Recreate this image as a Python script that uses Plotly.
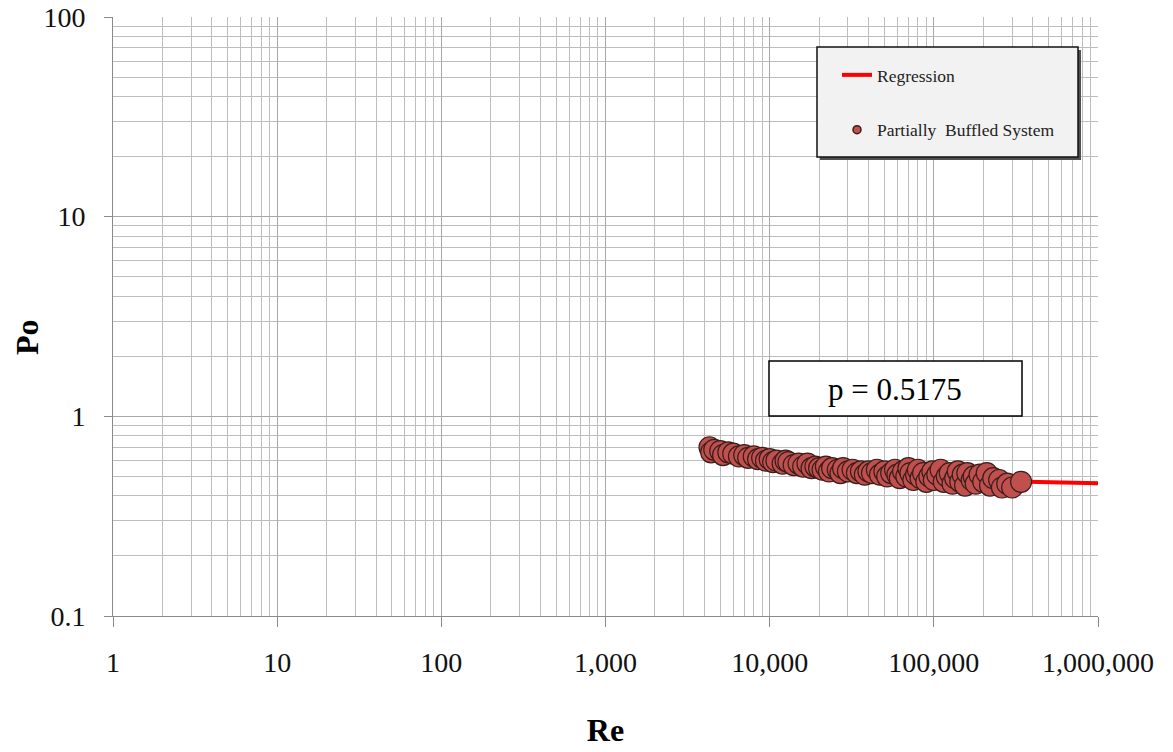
import plotly.graph_objects as go

# Measured points: Reynolds number and power number
re_values = [
    4300, 4400, 4600, 5000, 5200, 5600, 6000, 6500, 7000, 7400,
    8000, 8500, 9000, 9500, 10000, 10500, 11000, 12000, 12500, 13000,
    14000, 15000, 16000, 17000, 18000, 19000, 20000, 21000, 22000, 23000,
    24000, 26000, 27000, 28000, 30000, 32000, 34000, 36000, 38000, 40000,
    42000, 45000, 47000, 50000, 52000, 55000, 58000, 60000, 62000, 65000,
    68000, 70000, 72000, 75000, 78000, 80000, 83000, 86000, 90000, 94000,
    98000, 100000, 105000, 110000, 115000, 120000, 125000, 130000, 135000, 140000,
    145000, 150000, 155000, 160000, 170000, 175000, 180000, 190000, 200000, 210000,
    220000, 230000, 250000, 260000, 280000, 300000, 340000,
]
po_values = [
    0.70, 0.66, 0.68, 0.67, 0.64, 0.66, 0.65, 0.63, 0.64, 0.62,
    0.63, 0.61, 0.62, 0.60, 0.61, 0.59, 0.60, 0.58, 0.60, 0.59,
    0.57, 0.58, 0.56, 0.58, 0.55, 0.56, 0.55, 0.54, 0.56, 0.53,
    0.55, 0.54, 0.52, 0.55, 0.53, 0.54, 0.52, 0.53, 0.51, 0.53,
    0.52, 0.54, 0.51, 0.53, 0.50, 0.52, 0.54, 0.51, 0.49, 0.53,
    0.50, 0.55, 0.52, 0.48, 0.51, 0.54, 0.49, 0.52, 0.47, 0.50,
    0.53, 0.48, 0.51, 0.54, 0.47, 0.50, 0.52, 0.46, 0.49, 0.53,
    0.47, 0.51, 0.45, 0.52, 0.48, 0.50, 0.46, 0.51, 0.47, 0.52,
    0.45, 0.49, 0.48, 0.44, 0.46, 0.44, 0.47,
]

# Regression curve
reg_re = [4000, 10000, 30000, 100000, 300000, 1000000]
reg_po = [0.71, 0.60, 0.53, 0.49, 0.472, 0.462]

exponent_label = "p = 0.5175"

x_tick_values = [1, 10, 100, 1000, 10000, 100000, 1000000]
x_tick_labels = ["1", "10", "100", "1,000", "10,000", "100,000", "1,000,000"]
y_tick_values = [0.1, 1, 10, 100]
y_tick_labels = ["0.1", "1", "10", "100"]

FONT = "Liberation Serif, Times New Roman, serif"
MARKER_FILL = "#C0504D"
MARKER_EDGE = "#3b1d1c"


def minor_positions(lo_exp, hi_exp):
    vals = []
    for e in range(lo_exp, hi_exp):
        for m in range(2, 10):
            vals.append(m * 10.0 ** e)
    return vals


fig = go.Figure()

fig.add_trace(go.Scatter(
    x=reg_re, y=reg_po, mode="lines", name="Regression",
    line=dict(color="#FF0000", width=4),
    legendgroup="reg",
))
fig.add_trace(go.Scatter(
    x=re_values, y=po_values, mode="markers", showlegend=False,
    marker=dict(size=21, color=MARKER_FILL, line=dict(color=MARKER_EDGE, width=1.2)),
))
# legend entry with a small symbol
fig.add_trace(go.Scatter(
    x=[None], y=[None], mode="markers", name="Partially  Buffled System",
    marker=dict(size=8, color=MARKER_FILL, line=dict(color=MARKER_EDGE, width=1.5)),
    legendgroup="data",
))

L, R, T, B = 113, 75, 17, 136
W, H = 1173, 752
PW, PH = W - L - R, H - T - B


def px_x(px):
    return (px - L) / PW


def px_y(py):
    return (H - B - py) / PH


shapes = [
    # legend frame shadow and frame
    dict(type="rect", xref="paper", yref="paper",
         x0=px_x(820), x1=px_x(1081), y0=px_y(160), y1=px_y(50),
         fillcolor="#505050", line=dict(width=0), layer="above"),
    dict(type="rect", xref="paper", yref="paper",
         x0=px_x(817), x1=px_x(1078), y0=px_y(157), y1=px_y(47),
         fillcolor="#F2F2F2", line=dict(color="#111111", width=1.5), layer="above"),
    # exponent box
    dict(type="rect", xref="paper", yref="paper",
         x0=px_x(769), x1=px_x(1022), y0=px_y(416), y1=px_y(361),
         fillcolor="white", line=dict(color="black", width=1.5), layer="above"),
]

annotations = [
    dict(text=exponent_label, xref="paper", yref="paper",
         x=px_x(895), y=px_y(389), showarrow=False,
         font=dict(family=FONT, size=31, color="black"),
         xanchor="center", yanchor="middle"),
    # vertical axis title
    dict(text="<b>Po</b>", xref="paper", yref="paper",
         x=px_x(27), y=px_y(337), showarrow=False, textangle=-90,
         font=dict(family=FONT, size=32, color="black"),
         xanchor="center", yanchor="middle"),
]

axis_common = dict(
    type="log",
    showline=True, linecolor="#8a8a8a", linewidth=1,
    showgrid=True, gridcolor="#a8a8a8", gridwidth=1,
    ticks="outside", tickcolor="#8a8a8a", tickwidth=1,
    tickfont=dict(family=FONT, size=28, color="#111111"),
    zeroline=False, mirror=False,
)

fig.update_layout(
    width=W, height=H,
    margin=dict(l=L, r=R, t=T, b=B, autoexpand=False),
    paper_bgcolor="white", plot_bgcolor="white",
    font=dict(family=FONT, color="#111111"),
    shapes=shapes, annotations=annotations,
    showlegend=True,
    legend=dict(
        x=px_x(837), y=px_y(57), xanchor="left", yanchor="top",
        bgcolor="rgba(0,0,0,0)", borderwidth=0,
        font=dict(family=FONT, size=17.5, color="#222222"),
        traceorder="grouped", tracegroupgap=29,
    ),
    xaxis=dict(
        **axis_common,
        range=[0, 6],
        tickvals=x_tick_values, ticktext=x_tick_labels,
        ticklen=10, ticklabelstandoff=11,
        minor=dict(tickvals=minor_positions(0, 6), showgrid=True,
                   gridcolor="#bdbdbd", ticks=""),
        title=dict(text="<b>Re</b>", font=dict(family=FONT, size=32, color="black"),
                   standoff=42),
    ),
    yaxis=dict(
        **axis_common,
        range=[-1, 2],
        tickvals=y_tick_values, ticktext=y_tick_labels,
        ticklen=8, ticklabelstandoff=13,
        minor=dict(tickvals=minor_positions(-1, 2), showgrid=True,
                   gridcolor="#bdbdbd", ticks=""),
    ),
)

fig.write_html("out.html")
